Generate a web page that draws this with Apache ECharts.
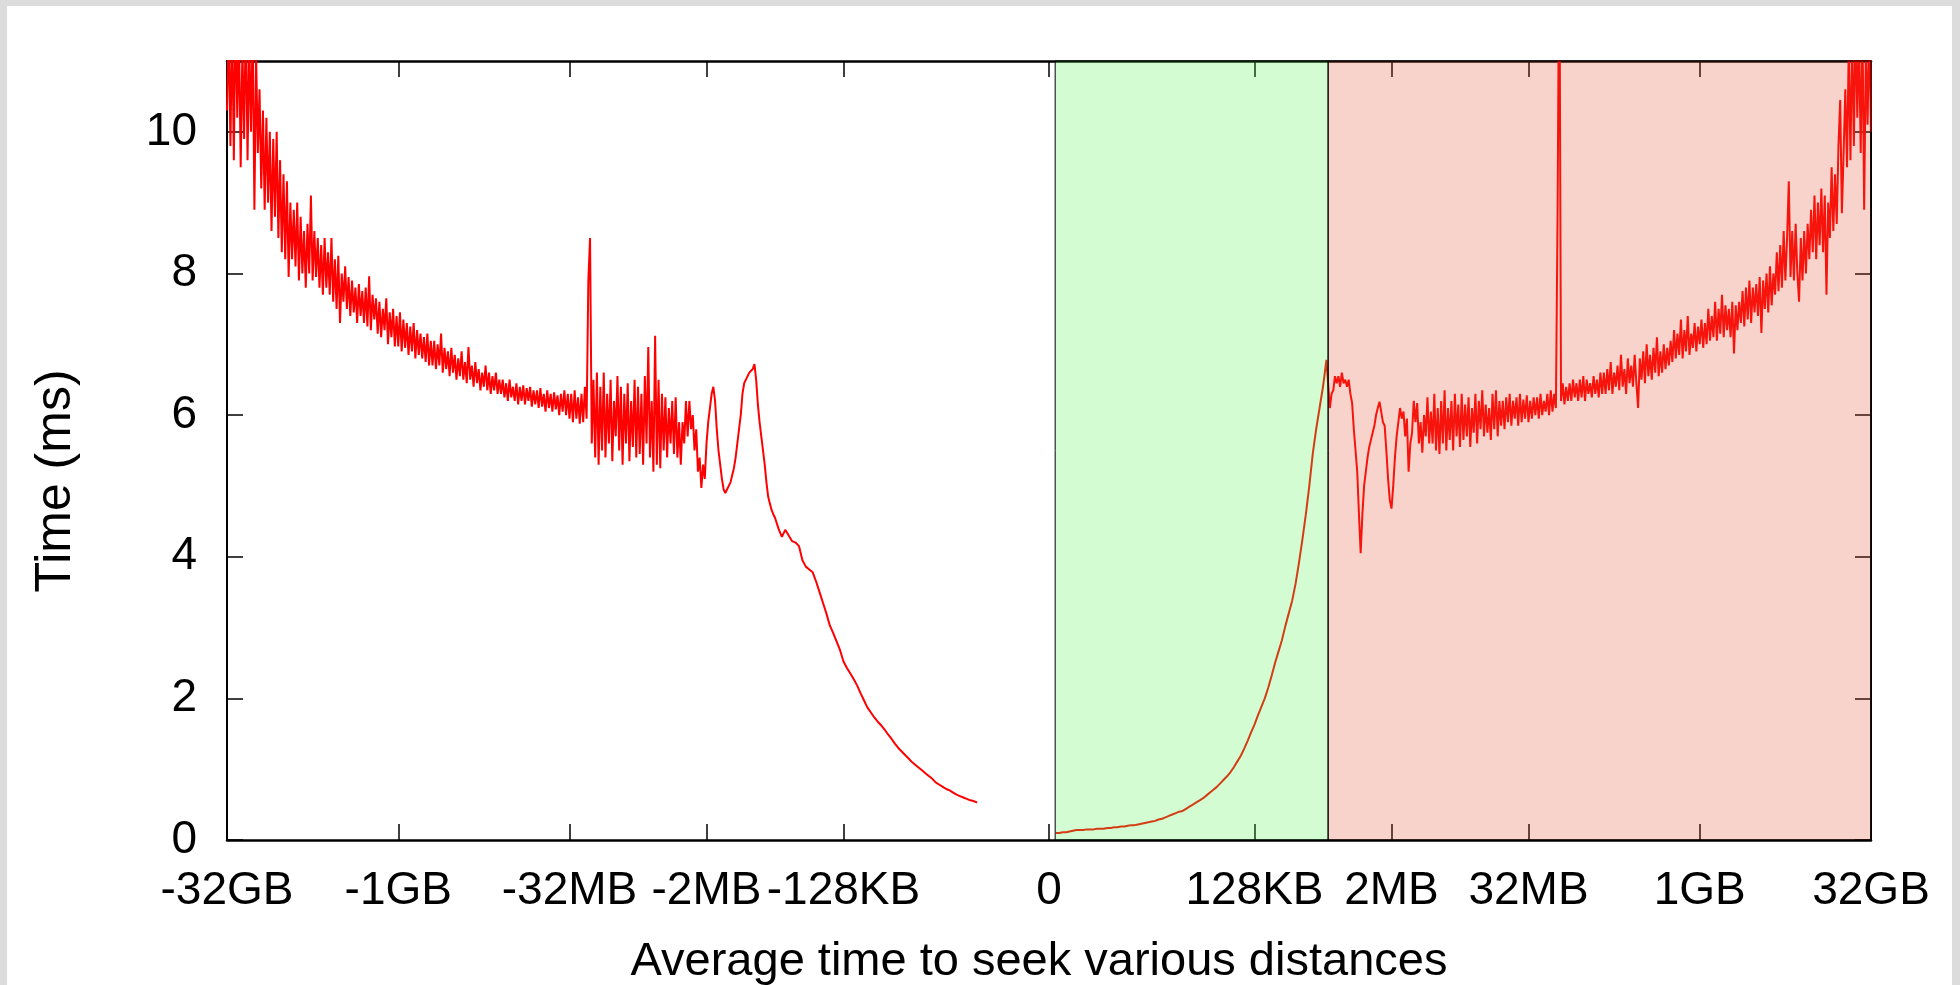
<!DOCTYPE html>
<html>
<head>
<meta charset="utf-8">
<script src="https://cdn.jsdelivr.net/npm/echarts@6/dist/echarts.min.js"></script>
<style>
  html, body { margin: 0; padding: 0; width: 1960px; height: 985px; overflow: hidden; background: #dcdcdc; }
  #panel { position: absolute; left: 7px; top: 6px; width: 1945px; height: 979px; background: #ffffff; }
</style>
</head>
<body>
<div id="panel"></div>
<script>
// Seek distance axis: signed log2 position (one unit = one doubling of distance).
const xTickPos = [-24, -19, -14, -10, -6, 0, 6, 10, 14, 19, 24];
const xTickLabels = ['-32GB', '-1GB', '-32MB', '-2MB', '-128KB', '0', '128KB', '2MB', '32MB', '1GB', '32GB'];
const yTicks = [0, 2, 4, 6, 8, 10];

// Backward seeks, -32GB .. about -4MB, sampled every 0.05 doubling (ms).
const backNoisyStart = -24.0;
const backNoisyStep = 0.05;
const backNoisy = [
  10.3, 11.5, 9.8, 11.6, 9.6, 11.8, 10.2, 11.4, 9.5, 11.2, 9.9, 11.7, 9.6, 11.3, 10.0, 11.5, 8.9, 11.1, 9.7, 10.6,
  9.2, 10.3, 8.9, 10.2, 9.0, 10.0, 8.6, 9.9, 8.8, 10.0, 8.5, 9.6, 8.3, 9.4, 8.2, 9.3, 7.95, 9.0, 8.2, 8.9,
  8.1, 9.0, 7.9, 8.8, 8.0, 8.6, 7.8, 8.7, 8.0, 9.1, 7.9, 8.6, 7.95, 8.5, 7.8, 8.4, 7.7, 8.5, 7.8, 8.3,
  7.7, 8.5, 7.6, 8.2, 7.5, 8.25, 7.3, 8.0, 7.6, 8.1, 7.5, 7.95, 7.4, 7.9, 7.45, 7.8, 7.3, 7.85, 7.4, 7.75,
  7.3, 7.8, 7.25, 7.96, 7.2, 7.7, 7.35, 7.65, 7.15, 7.6, 7.1, 7.5, 7.2, 7.65, 7.0, 7.45, 7.1, 7.5, 6.97, 7.4,
  6.97, 7.45, 6.9, 7.35, 6.95, 7.3, 6.85, 7.25, 6.9, 7.3, 6.8, 7.2, 6.85, 7.15, 6.8, 7.1, 6.75, 7.15, 6.7, 7.05,
  6.7, 7.05, 6.65, 7.0, 6.7, 7.15, 6.6, 6.95, 6.65, 6.9, 6.55, 6.95, 6.6, 6.85, 6.5, 6.8, 6.55, 6.9, 6.5, 6.75,
  6.45, 6.96, 6.5, 6.7, 6.4, 6.75, 6.45, 6.65, 6.35, 6.6, 6.4, 6.7, 6.35, 6.6, 6.3, 6.55, 6.35, 6.6, 6.3, 6.5,
  6.3, 6.5, 6.25, 6.45, 6.2, 6.5, 6.25, 6.4, 6.2, 6.45, 6.15, 6.4, 6.2, 6.42, 6.15, 6.38, 6.2, 6.4, 6.12, 6.35,
  6.15, 6.35, 6.1, 6.38, 6.12, 6.3, 6.05, 6.35, 6.1, 6.3, 6.05, 6.32, 6.08, 6.28, 6.0, 6.3, 6.05, 6.35, 6.0, 6.3,
  5.95, 6.3, 5.9, 6.35, 5.95, 6.25, 5.88, 6.3, 5.9, 6.4, 5.95, 7.9, 8.5, 5.6, 6.5, 5.4, 6.6, 5.3, 6.4, 5.5,
  6.6, 5.4, 6.3, 5.6, 6.5, 5.35, 6.2, 5.7, 6.55, 5.5, 6.4, 5.3, 6.3, 5.6, 6.45, 5.35, 6.2, 5.55, 6.5, 5.4,
  6.4, 5.45, 6.3, 5.3, 6.55, 5.6, 6.96, 5.4, 6.2, 5.2, 7.12, 5.3, 6.5, 5.25, 6.3, 5.5, 6.25, 5.4, 6.1, 5.6,
  6.2, 5.45, 6.25, 5.4, 5.9, 5.3, 5.9, 5.6, 6.2, 5.7, 6.2, 5.8, 6.0, 5.5, 5.8, 5.2, 5.4, 4.97, 5.3, 5.1,
  5.6, 5.9, 6.1, 6.3, 6.4, 6.2, 5.8, 5.5, 5.3, 5.1, 4.95, 4.9, 4.9, 5.0, 5.05, 5.15, 5.25, 5.4, 5.6, 5.8,
  6.0, 6.3, 6.45, 6.5, 6.55, 6.6, 6.6, 6.65, 6.72, 6.5, 6.15, 5.9, 5.7, 5.5, 5.3, 5.05, 4.85, 4.75, 4.66, 4.6
];

// Backward seeks, -4MB .. about -8KB, sampled every 0.1 doubling (ms).
const backTailStart = -8.0;
const backTailStep = 0.1;
const backTail = [
  4.55, 4.4, 4.28, 4.38, 4.3, 4.22, 4.2, 4.15, 3.95, 3.86,
  3.82, 3.78, 3.65, 3.5, 3.35, 3.2, 3.03, 2.92, 2.8, 2.68,
  2.52, 2.43, 2.35, 2.27, 2.18, 2.07, 1.97, 1.87, 1.8, 1.73,
  1.67, 1.62, 1.56, 1.49, 1.43, 1.36, 1.3, 1.25, 1.2, 1.15,
  1.1, 1.06, 1.02, 0.98, 0.94, 0.9, 0.86, 0.81, 0.78, 0.75,
  0.72, 0.7, 0.67, 0.64, 0.62, 0.6, 0.58, 0.56, 0.55, 0.53
];

// Short forward seeks, sampled every 0.1 doubling (ms).
const shortStart = 0.2;
const shortStep = 0.1;
const shortSeek = [
  0.10, 0.10, 0.11, 0.11, 0.12, 0.13, 0.14, 0.14,
  0.14, 0.15, 0.15, 0.15, 0.16, 0.16, 0.16, 0.17, 0.17, 0.18,
  0.18, 0.19, 0.19, 0.20, 0.21, 0.21, 0.22, 0.23, 0.24, 0.25,
  0.26, 0.27, 0.29, 0.30, 0.32, 0.34, 0.36, 0.38, 0.40, 0.41,
  0.44, 0.47, 0.50, 0.53, 0.56, 0.59, 0.63, 0.67, 0.71, 0.75,
  0.80, 0.85, 0.90, 0.96, 1.03, 1.11, 1.19, 1.29, 1.40, 1.52,
  1.63, 1.76, 1.88, 2.00, 2.15, 2.32, 2.50, 2.66, 2.82, 3.02,
  3.20, 3.38, 3.62, 3.92, 4.25, 4.60, 5.00, 5.45, 5.80, 6.10,
  6.40, 6.78
];

// Long forward seeks, sampled every 0.05 doubling (ms).
const longStart = 8.2;
const longStep = 0.05;
const longSeek = [
  6.1, 6.3, 6.35, 6.55, 6.45, 6.55, 6.4, 6.6, 6.45, 6.5, 6.4, 6.5, 6.3, 6.17, 5.8, 5.5, 5.2, 4.6, 4.05, 4.6,
  5.0, 5.2, 5.4, 5.55, 5.65, 5.75, 5.85, 6.0, 6.1, 6.19, 6.2, 5.9, 5.85, 5.5, 5.1, 4.8, 4.68, 5.0, 5.4, 5.7,
  5.9, 6.1, 5.95, 6.05, 5.7, 5.95, 5.2, 5.6, 5.75, 6.2, 5.9, 6.17, 5.6, 5.9, 5.47, 6.0, 5.7, 6.25, 5.6, 6.05,
  5.6, 6.3, 5.5, 6.1, 5.45, 6.2, 5.6, 6.35, 5.5, 6.1, 5.65, 6.2, 5.5, 6.3, 5.7, 6.15, 5.55, 6.3, 5.65, 6.15,
  5.7, 6.25, 5.55, 6.1, 5.75, 6.3, 5.6, 6.2, 5.8, 6.35, 5.7, 6.15, 5.75, 6.1, 5.65, 6.3, 5.8, 6.35, 5.7, 6.2,
  5.85, 6.2, 5.8, 6.25, 5.9, 6.3, 5.85, 6.2, 5.95, 6.25, 5.85, 6.3, 5.9, 6.22, 5.95, 6.28, 5.9, 6.2, 5.95, 6.25,
  6.0, 6.25, 5.95, 6.3, 6.0, 6.2, 6.05, 6.3, 6.0, 6.35, 6.05, 6.3, 6.1, 8.9, 13.0, 6.2, 6.45, 6.15, 6.4, 6.2,
  6.45, 6.2, 6.5, 6.25, 6.45, 6.2, 6.5, 6.25, 6.55, 6.2, 6.5, 6.3, 6.45, 6.25, 6.55, 6.3, 6.5, 6.25, 6.6, 6.3,
  6.6, 6.3, 6.65, 6.35, 6.75, 6.3, 6.6, 6.4, 6.7, 6.35, 6.85, 6.4, 6.65, 6.3, 6.8, 6.45, 6.7, 6.4, 6.85, 6.45,
  6.1, 6.8, 6.5, 6.9, 6.45, 7.0, 6.55, 6.85, 6.5, 6.95, 6.6, 7.1, 6.55, 6.9, 6.6, 7.0, 6.65, 6.95, 6.7, 7.05,
  6.75, 7.2, 6.8, 7.15, 6.85, 7.35, 6.8, 7.2, 6.9, 7.4, 6.85, 7.15, 6.95, 7.3, 6.9, 7.25, 7.0, 7.35, 6.95, 7.3,
  7.0, 7.5, 7.05, 7.4, 7.1, 7.6, 7.05, 7.5, 7.15, 7.7, 7.1, 7.55, 7.2, 7.5, 7.1, 7.6, 6.87, 7.55, 7.2, 7.6,
  7.3, 7.75, 7.25, 7.8, 7.35, 7.9, 7.3, 7.8, 7.45, 7.85, 7.4, 7.95, 7.16, 7.9, 7.5, 8.0, 7.45, 8.1, 7.55, 8.0,
  7.7, 8.3, 7.75, 8.4, 7.8, 8.6, 7.9, 8.5, 9.3, 7.95, 8.6, 7.9, 8.7, 8.0, 7.6, 8.5, 7.9, 8.6, 8.0, 8.7,
  8.2, 8.9, 8.3, 9.1, 8.2, 9.0, 8.4, 9.2, 8.3, 9.1, 7.7, 9.0, 8.5, 9.5, 8.6, 9.4, 8.7, 9.8, 10.45, 8.85,
  9.7, 10.6, 9.5, 11.2, 9.6, 11.4, 9.8, 11.6, 10.2, 11.3, 9.7, 11.6, 8.9, 11.2, 10.1, 11.5, 10.0, 11.4, 10.3, 10.8
];

// Shaded bands: short seeks (green) and long seeks (red).
const shortBand = [0.18, 8.15];
const longBand = [8.15, 24];
const timeMax = 11;

const FONT = '"Liberation Sans", Arial, Helvetica, sans-serif';

const toPoints = (start, step, vals) => vals.map((v, i) => [+(start + i * step).toFixed(3), v]);

const tickLabel = v => {
  const k = xTickPos.indexOf(Math.round(v));
  return k >= 0 ? xTickLabels[k] : '';
};

const frameX = (pos, showLabels) => ({
  type: 'value',
  min: -24,
  max: 24,
  position: pos,
  axisLine: { show: true, onZero: false, lineStyle: { color: '#000', width: 2.5 } },
  axisTick: { show: true, inside: true, length: 16, customValues: xTickPos, lineStyle: { color: '#000', width: 1.5 } },
  axisLabel: {
    show: showLabels, customValues: xTickPos, margin: 28, formatter: tickLabel,
    color: '#000', fontFamily: FONT, fontSize: 46
  },
  splitLine: { show: false }
});

const frameY = (pos, showLabels) => ({
  type: 'value',
  min: 0,
  max: timeMax,
  position: pos,
  axisLine: { show: true, onZero: false, lineStyle: { color: '#000', width: 2 } },
  axisTick: { show: true, inside: true, length: 16, customValues: yTicks, lineStyle: { color: '#000', width: 1.5 } },
  axisLabel: { show: showLabels, customValues: yTicks, margin: 30, color: '#000', fontFamily: FONT, fontSize: 46 },
  splitLine: { show: false }
});

const lineSeries = data => ({
  type: 'line',
  data: data,
  showSymbol: false,
  symbol: 'none',
  clip: true,
  z: 2,
  lineStyle: { color: '#ff0000', width: 2 }
});

const chart = echarts.init(document.getElementById('panel'), null, { renderer: 'canvas' });

chart.setOption({
  animation: false,
  backgroundColor: '#ffffff',
  grid: { left: 220, top: 55, right: 81, bottom: 145, containLabel: false },
  xAxis: [frameX('bottom', true), frameX('top', false)],
  yAxis: [frameY('left', true), frameY('right', false)],
  series: [
    lineSeries(toPoints(backNoisyStart, backNoisyStep, backNoisy)
      .concat(toPoints(backTailStart, backTailStep, backTail))),
    lineSeries(toPoints(shortStart, shortStep, shortSeek)
      .concat(toPoints(longStart, longStep, longSeek))),
    {
      type: 'line',
      data: [],
      z: 10,
      silent: true,
      markArea: {
        silent: true,
        z: 10,
        data: [
          [
            { xAxis: shortBand[0], yAxis: 0, itemStyle: { color: 'rgba(79,243,79,0.25)', borderColor: '#000', borderWidth: 1 } },
            { xAxis: shortBand[1], yAxis: timeMax }
          ],
          [
            { xAxis: longBand[0], yAxis: 0, itemStyle: { color: 'rgba(223,79,47,0.25)', borderColor: '#000', borderWidth: 1 } },
            { xAxis: longBand[1], yAxis: timeMax }
          ]
        ]
      }
    }
  ],
  graphic: [
    {
      type: 'text',
      x: 1032,
      y: 956,
      style: { text: 'Average time to seek various distances', font: '47px ' + FONT, fill: '#000', align: 'center', verticalAlign: 'middle' }
    },
    {
      type: 'text',
      x: 49,
      y: 475,
      rotation: Math.PI / 2,
      style: { text: 'Time (ms)', font: '50px ' + FONT, fill: '#000', align: 'center', verticalAlign: 'middle' }
    }
  ]
});
</script>
</body>
</html>
